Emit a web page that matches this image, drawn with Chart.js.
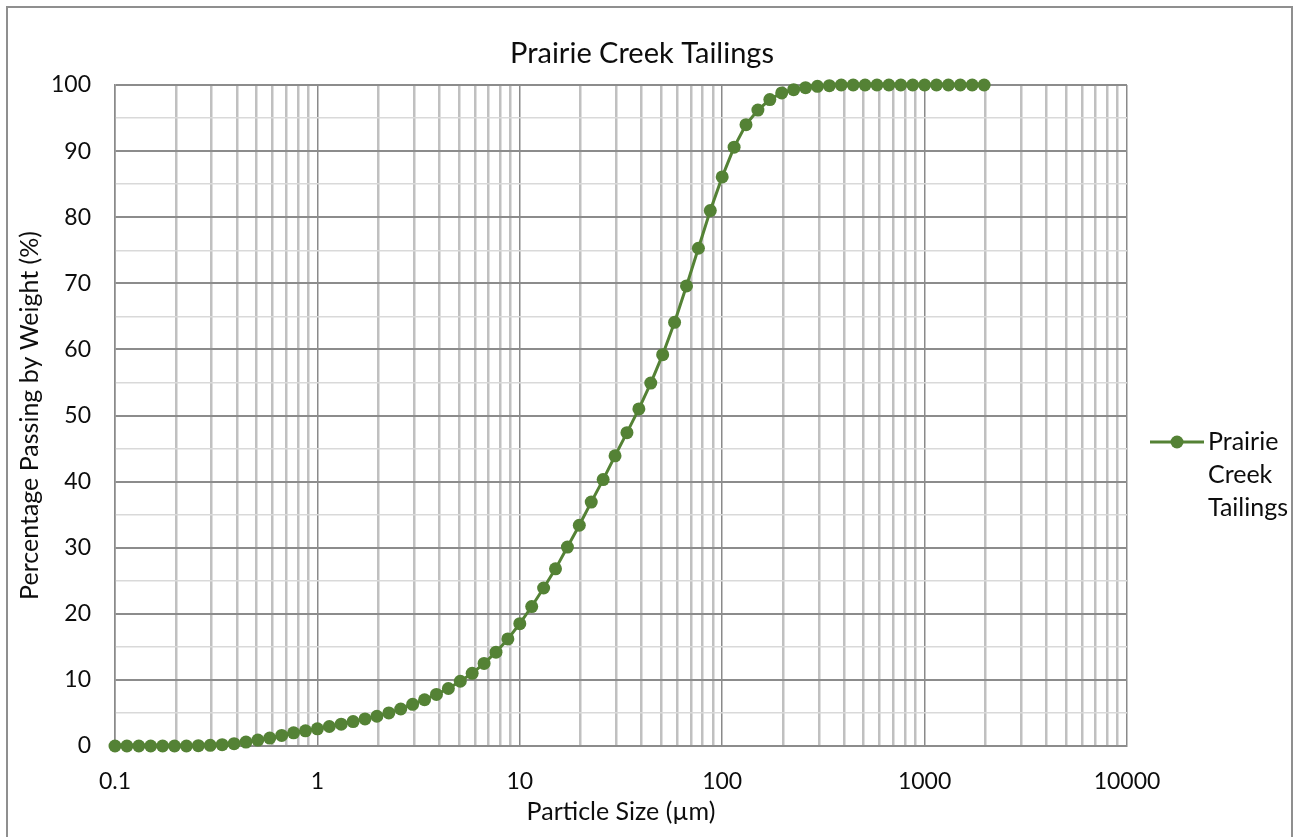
<!DOCTYPE html>
<html>
<head>
<meta charset="utf-8">
<script src="https://cdn.jsdelivr.net/npm/chart.js@4.4.1/dist/chart.umd.min.js"></script>
<style>
  html, body { margin: 0; padding: 0; background: #ffffff; }
  #wrap { position: relative; width: 1301px; height: 837px; }
</style>
</head>
<body>
<div id="wrap"><canvas id="c" width="1301" height="837"></canvas></div>
<script>
// ---- data ----
const particleSize = [
  0.1, 0.1145, 0.1311, 0.1501, 0.1719, 0.1968, 0.2254, 0.2581, 0.2955, 0.3384,
  0.3875, 0.4437, 0.508, 0.5817, 0.6661, 0.7627, 0.8733, 1.0, 1.145, 1.311,
  1.501, 1.719, 1.968, 2.254, 2.581, 2.955, 3.384, 3.875, 4.437, 5.08,
  5.817, 6.661, 7.627, 8.733, 10, 11.45, 13.11, 15.01, 17.19, 19.68,
  22.54, 25.81, 29.55, 33.84, 38.75, 44.37, 50.8, 58.17, 66.61, 76.27,
  87.33, 100, 114.5, 131.1, 150.1, 171.9, 196.8, 225.4, 258.1, 295.5,
  338.4, 387.5, 443.7, 508, 581.7, 666.1, 762.7, 873.3, 1000, 1145,
  1311, 1501, 1719, 1968
];
const percentPassing = [
  0, 0, 0, 0, 0, 0, 0, 0.05, 0.1, 0.2,
  0.35, 0.6, 0.9, 1.2, 1.6, 2.0, 2.3, 2.6, 2.95, 3.3,
  3.7, 4.1, 4.5, 5.0, 5.6, 6.3, 7.0, 7.8, 8.7, 9.8,
  11.0, 12.5, 14.2, 16.2, 18.5, 21.1, 23.9, 26.8, 30.1, 33.4,
  36.9, 40.3, 43.9, 47.4, 51.0, 54.9, 59.2, 64.1, 69.6, 75.3,
  81.0, 86.1, 90.6, 94.0, 96.2, 97.8, 98.8, 99.3, 99.6, 99.8,
  99.9, 100, 100, 100, 100, 100, 100, 100, 100, 100,
  100, 100, 100, 100
];
const seriesName = 'Prairie Creek Tailings';
const seriesLegendLines = ['Prairie', 'Creek', 'Tailings'];
const xDecades = [0.1, 1, 10, 100, 1000, 10000];
const xTickLabels = ['0.1', '1', '10', '100', '1000', '10000'];
const yTickLabels = ['0', '10', '20', '30', '40', '50', '60', '70', '80', '90', '100'];
const chartTitle = 'Prairie Creek Tailings';
const xAxisTitle = 'Particle Size (\u00b5m)';
const yAxisTitle = 'Percentage Passing by Weight (%)';

// ---- styling ----
const GREEN = '#548235';
const FONT = 'Lato, "Open Sans", sans-serif';
const TEXT = '#0d0d0d';

function isDecade(v) {
  const l = Math.log10(v);
  return Math.abs(l - Math.round(l)) < 1e-6;
}

const frame = {
  id: 'frame',
  afterDraw(chart) {
    const ctx = chart.ctx;
    ctx.save();
    ctx.strokeStyle = '#8f8f8f';
    ctx.lineWidth = 2;
    ctx.beginPath();
    ctx.moveTo(7, 845);
    ctx.lineTo(7, 7);
    ctx.lineTo(1292, 7);
    ctx.lineTo(1292, 845);
    ctx.stroke();
    // chart title, centred on the whole chart box
    ctx.fillStyle = TEXT;
    ctx.font = '29px ' + FONT;
    ctx.textAlign = 'center';
    ctx.textBaseline = 'middle';
    ctx.fillText(chartTitle, 642, 54);
    ctx.restore();
  }
};

const sideLegend = {
  id: 'sideLegend',
  afterDraw(chart) {
    const ctx = chart.ctx;
    const ds = chart.data.datasets[0];
    const y0 = 442;
    ctx.save();
    ctx.strokeStyle = ds.borderColor;
    ctx.lineWidth = 3;
    ctx.beginPath();
    ctx.moveTo(1150, y0);
    ctx.lineTo(1204, y0);
    ctx.stroke();
    ctx.fillStyle = ds.pointBackgroundColor;
    ctx.beginPath();
    ctx.arc(1177, y0, 6.5, 0, Math.PI * 2);
    ctx.fill();
    ctx.fillStyle = TEXT;
    ctx.font = '25px ' + FONT;
    ctx.textAlign = 'left';
    ctx.textBaseline = 'middle';
    seriesLegendLines.forEach((t, i) => ctx.fillText(t, 1208, y0 + i * 33));
    ctx.restore();
  }
};

new Chart(document.getElementById('c'), {
  type: 'line',
  data: {
    datasets: [{
      label: seriesName,
      data: particleSize.map((x, i) => ({ x: x, y: percentPassing[i] })),
      borderColor: GREEN,
      backgroundColor: GREEN,
      pointBackgroundColor: GREEN,
      pointBorderColor: GREEN,
      pointBorderWidth: 0,
      pointRadius: 6.5,
      borderWidth: 3,
      tension: 0,
      clip: false
    }]
  },
  options: {
    responsive: false,
    animation: false,
    devicePixelRatio: 1,
    layout: { padding: { left: 7, right: 174, top: 85, bottom: 10 } },
    plugins: {
      legend: { display: false },
      tooltip: { enabled: false },
      title: { display: false }
    },
    scales: {
      x: {
        type: 'logarithmic',
        min: xDecades[0],
        max: xDecades[xDecades.length - 1],
        afterBuildTicks(scale) {
          const ticks = [];
          xDecades.forEach((d, i) => {
            ticks.push({ value: d });
            if (i < xDecades.length - 1) {
              for (let m = 2; m <= 9; m++) ticks.push({ value: d * m });
            }
          });
          scale.ticks = ticks;
        },
        afterFit(scale) { scale.height = 81; },
        ticks: {
          autoSkip: false,
          maxRotation: 0,
          minRotation: 0,
          padding: 22,
          color: TEXT,
          font: { family: FONT, size: 23 },
          callback(value) {
            const idx = xDecades.findIndex(d => Math.abs(Math.log10(d) - Math.log10(value)) < 1e-6);
            return idx >= 0 ? xTickLabels[idx] : '';
          }
        },
        grid: {
          drawTicks: false,
          color: ctx => (ctx.tick && isDecade(ctx.tick.value)) ? '#8a8a8a' : '#c0c0c0',
          lineWidth: ctx => (ctx.tick && isDecade(ctx.tick.value)) ? 1.5 : 2.5
        },
        border: { display: true, color: '#8c8c8c', width: 2 },
        title: {
          display: true,
          text: xAxisTitle,
          color: TEXT,
          font: { family: FONT, size: 25 },
          padding: { top: 0, bottom: 0 }
        }
      },
      y: {
        type: 'linear',
        min: 0,
        max: 100,
        afterFit(scale) { scale.width = 108; },
        ticks: {
          stepSize: 5,
          autoSkip: false,
          padding: 24,
          color: TEXT,
          font: { family: FONT, size: 23 },
          callback(value) {
            if (value % 10 !== 0) return '';
            return yTickLabels[value / 10];
          }
        },
        grid: {
          drawTicks: false,
          color: ctx => (ctx.tick && ctx.tick.value % 10 === 0) ? '#8c8c8c' : '#d9d9d9',
          lineWidth: ctx => (ctx.tick && ctx.tick.value % 10 === 0) ? 2 : 1.5
        },
        border: { display: true, color: '#8a8a8a', width: 1.5 },
        title: {
          display: true,
          text: yAxisTitle,
          color: TEXT,
          font: { family: FONT, size: 25 },
          padding: { top: 8, bottom: 0 }
        }
      }
    }
  },
  plugins: [frame, sideLegend]
});
</script>
</body>
</html>
